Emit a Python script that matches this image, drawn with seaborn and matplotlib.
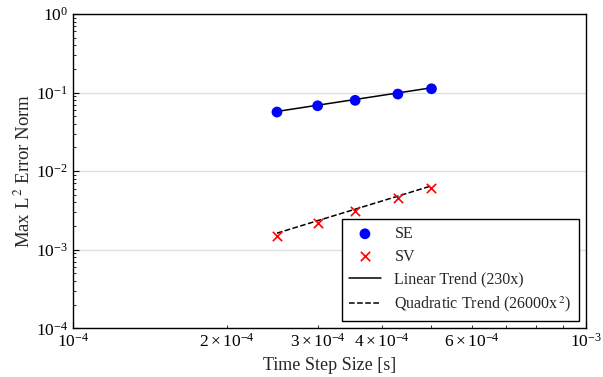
import matplotlib
matplotlib.use("Agg")
import matplotlib.pyplot as plt
import seaborn as sns
import numpy as np
import pandas as pd

# Data
dt = [2.5e-4, 3.0e-4, 3.55e-4, 4.3e-4, 5.0e-4]
se_err = [0.0565, 0.0679, 0.0796, 0.0957, 0.1118]
sv_err = [0.00150, 0.00216, 0.00309, 0.00449, 0.00613]
lin_coef = 230.0
quad_coef = 26000.0

sns.set_style("white")
plt.rcParams["font.family"] = ["Liberation Serif", "DejaVu Serif"]
plt.rcParams["mathtext.fontset"] = "stix"

fig = plt.figure(figsize=(6.03, 3.77), dpi=100)
ax = fig.add_axes([0.1206, 0.1292, 0.9718 - 0.1206, 0.9629 - 0.1292])

x = np.array(dt)
df = pd.DataFrame({"dt": dt, "SE": se_err, "SV": sv_err,
                   "lin": lin_coef * x, "quad": quad_coef * x ** 2})

ax.grid(True, axis="y", which="major", color="#e0e0e0", linewidth=1.0)
ax.set_axisbelow(True)

sns.scatterplot(data=df, x="dt", y="SE", ax=ax, color="blue", marker="o",
                s=60, edgecolor="none", label="SE", zorder=3)
sns.scatterplot(data=df, x="dt", y="SV", ax=ax, color="red", marker="x",
                s=45, linewidth=1.2, label="SV", zorder=3)
sns.lineplot(data=df, x="dt", y="lin", ax=ax, color="black", linewidth=1.1,
             label="Linear Trend (230x)", zorder=2)
sns.lineplot(data=df, x="dt", y="quad", ax=ax, color="black", linewidth=1.1,
             linestyle="--", label="Quadratic Trend (26000x$^{\\,2}$)", zorder=2)

ax.set_xscale("log")
ax.set_yscale("log")
ax.set_xlim(1e-4, 1e-3)
ax.set_ylim(1e-4, 1e0)

for s in ax.spines.values():
    s.set_color("black")
    s.set_linewidth(1.0)

ax.tick_params(which="both", direction="in", bottom=True, left=True,
               top=False, right=False, labelsize=12.5, colors="black")
ax.tick_params(which="major", length=4)
ax.tick_params(which="minor", length=2.5)

ax.set_xlabel("Time Step Size [s]", fontsize=13)
ax.set_ylabel("Max L$^{\\,2}$ Error Norm", fontsize=13.5, labelpad=1)

leg = ax.legend(loc="lower right", fontsize=11.5, frameon=True, fancybox=False,
                edgecolor="black", framealpha=1, labelspacing=0.42,
                handlelength=2.0, handletextpad=0.85, borderpad=0.45,
                borderaxespad=0.45)
leg.get_frame().set_linewidth(1.0)

fig.savefig("out.png", dpi=100)
